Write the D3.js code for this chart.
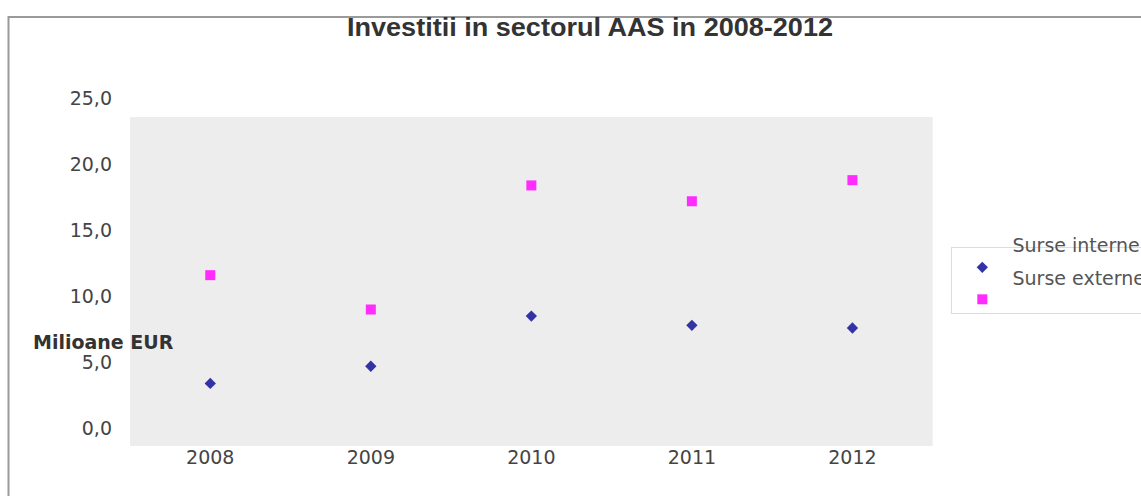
<!DOCTYPE html>
<html><head><meta charset="utf-8">
<script src="https://cdn.jsdelivr.net/npm/d3@7"></script>
<style>html,body{margin:0;padding:0;background:#fff;}svg{display:block;}</style>
</head><body>
<script>
const years = ["2008","2009","2010","2011","2012"];
const interne = [3.4, 4.7, 8.5, 7.8, 7.6];
const externe = [11.6, 9.0, 18.4, 17.2, 18.8];
const yTicks = [0, 5, 10, 15, 20, 25];
const seriesNames = ["Surse interne", "Surse externe"];
const title = "Investitii in sectorul AAS in 2008-2012";
const yTitle = "Milioane EUR";

const W = 1141, H = 496;
const svg = d3.select("body").append("svg").attr("width", W).attr("height", H);

// frame
svg.append("line").attr("x1", 8).attr("x2", W).attr("y1", 17).attr("y2", 17)
  .attr("stroke", "#9a9a9a").attr("stroke-width", 2);
svg.append("line").attr("x1", 8.5).attr("x2", 8.5).attr("y1", 16).attr("y2", H)
  .attr("stroke", "#9a9a9a").attr("stroke-width", 2);

const x = d3.scaleBand().domain(years).range([130, 932.7]).padding(0);
const y = d3.scaleLinear().domain([0, 25]).range([428.3, 98.3]);

// plot area
svg.append("rect").attr("x", 130).attr("y", 117).attr("width", 932.7 - 130).attr("height", 446 - 117)
  .attr("fill", "#ededed");

// title
svg.append("text").attr("x", 347).attr("y", 36).text(title)
  .attr("font-family", "Liberation Sans, Arial, sans-serif").attr("font-weight", "bold")
  .attr("font-size", 25).attr("fill", "#333")
  .attr("textLength", 486).attr("lengthAdjust", "spacingAndGlyphs");

// y axis
const yAxis = svg.append("g").attr("transform", "translate(112,0)")
  .call(d3.axisLeft(y).tickValues(yTicks).tickSize(0).tickPadding(0)
    .tickFormat(d => d3.format(".1f")(d).replace(".", ",")));
yAxis.select(".domain").remove();
yAxis.selectAll("text").attr("font-family", "DejaVu Sans, sans-serif").attr("font-size", 19).attr("fill", "#444");

// x axis
const xAxis = svg.append("g").attr("transform", "translate(0,446)")
  .call(d3.axisBottom(x).tickSize(0).tickPadding(4.5));
xAxis.select(".domain").remove();
xAxis.selectAll("text").attr("font-family", "DejaVu Sans, sans-serif").attr("font-size", 19).attr("fill", "#444");

// y title
svg.append("text").attr("x", 33).attr("y", 349).text(yTitle)
  .attr("font-family", "DejaVu Sans, sans-serif").attr("font-weight", "bold")
  .attr("font-size", 19).attr("fill", "#333");

const diamond = d3.symbol().type(d3.symbolSquare).size(64);
const square = d3.symbol().type(d3.symbolSquare).size(100);
const cx = d => x(d) + x.bandwidth() / 2;

svg.append("g").selectAll("path").data(years.map((yr, i) => ({yr, v: externe[i]})))
  .join("path").attr("d", square)
  .attr("transform", d => `translate(${cx(d.yr)},${y(d.v)})`)
  .attr("fill", "#ff2bff");

svg.append("g").selectAll("path").data(years.map((yr, i) => ({yr, v: interne[i]})))
  .join("path").attr("d", diamond)
  .attr("transform", d => `translate(${cx(d.yr)},${y(d.v)}) rotate(45)`)
  .attr("fill", "#3333a6");

// legend
svg.append("rect").attr("x", 951.5).attr("y", 247.5).attr("width", 200).attr("height", 66)
  .attr("fill", "#fff").attr("stroke", "#dcdcdc").attr("stroke-width", 1);
svg.append("path").attr("d", diamond).attr("transform", "translate(982.3,267.3) rotate(45)").attr("fill", "#3333a6");
svg.append("path").attr("d", square).attr("transform", "translate(982.3,299.3)").attr("fill", "#ff2bff");
svg.append("text").attr("x", 1012.5).attr("y", 252).text(seriesNames[0])
  .attr("font-family", "DejaVu Sans, sans-serif").attr("font-size", 19).attr("fill", "#555");
svg.append("text").attr("x", 1012.5).attr("y", 285).text(seriesNames[1])
  .attr("font-family", "DejaVu Sans, sans-serif").attr("font-size", 19).attr("fill", "#555");
</script>
</body></html>
